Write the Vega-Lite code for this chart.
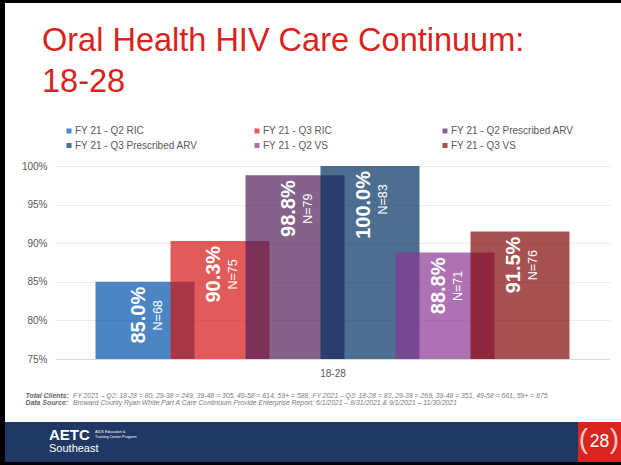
{
  "$schema": "https://vega.github.io/schema/vega-lite/v6.json",
  "background": "#000000",
  "padding": {"left": 5, "top": 3, "right": 0, "bottom": 3},
  "autosize": {"type": "pad"},
  "spacing": 0,
  "bounds": "flush",
  "config": {"view": {"stroke": null}, "font": "Liberation Sans"},
  "vconcat": [
    {
      "width": 616,
      "height": 419,
      "view": {"fill": "#ffffff", "stroke": null},
      "title": {
        "text": ["Oral Health HIV Care Continuum:", "18-28"],
        "anchor": "start",
        "frame": "group",
        "orient": "top",
        "offset": -121,
        "dx": 37,
        "font": "Liberation Sans",
        "fontSize": 32.5,
        "fontWeight": "normal",
        "color": "#d8231e",
        "lineHeight": 41,
        "baseline": "alphabetic"
      },
      "data": {
        "values": [
          {"series": "FY 21 - Q2 RIC", "value": 0.85, "n": "N=68"},
          {"series": "FY 21 - Q3 RIC", "value": 0.903, "n": "N=75"},
          {"series": "FY 21 - Q2 Prescribed ARV", "value": 0.988, "n": "N=79"},
          {"series": "FY 21 - Q3 Prescribed ARV", "value": 1.0, "n": "N=83"},
          {"series": "FY 21 - Q2 VS", "value": 0.888, "n": "N=71"},
          {"series": "FY 21 - Q3 VS", "value": 0.915, "n": "N=76"}
        ]
      },
      "encoding": {
        "x": {
          "field": "series",
          "type": "nominal",
          "sort": ["FY 21 - Q2 RIC", "FY 21 - Q3 RIC", "FY 21 - Q2 Prescribed ARV", "FY 21 - Q3 Prescribed ARV", "FY 21 - Q2 VS", "FY 21 - Q3 VS"],
          "scale": {"range": [50, 605], "paddingInner": 0, "paddingOuter": 0.7},
          "axis": {
            "labels": false,
            "ticks": false,
            "grid": false,
            "domain": true,
            "domainColor": "#d9d9d9",
            "domainWidth": 1,
            "offset": -63,
            "title": "18-28",
            "titleFont": "Liberation Sans",
            "titleFontSize": 10,
            "titleFontWeight": "normal",
            "titleColor": "#595959",
            "titlePadding": 9
          }
        }
      },
      "layer": [
        {
          "mark": {"type": "bar", "opacity": 0.7, "width": {"band": 1.32}},
          "encoding": {
            "y": {
              "field": "value",
              "type": "quantitative",
              "scale": {"domain": [0.75, 1.0], "range": [356, 163], "zero": false, "nice": false},
              "axis": {
                "orient": "left",
                "offset": -45,
                "values": [0.75, 0.8, 0.85, 0.9, 0.95, 1.0],
                "format": ".0%",
                "labelFont": "Liberation Sans",
                "labelFontSize": 10,
                "labelColor": "#595959",
                "labelPadding": 3,
                "domain": false,
                "ticks": false,
                "grid": true,
                "gridColor": "#ececec",
                "title": ["Total Clients:", "Data Source:"],
                "titleX": -25,
                "titleY": 394.3,
                "titleAngle": 0,
                "titleAlign": "left",
                "titleBaseline": "alphabetic",
                "titleFont": "Liberation Sans",
                "titleFontSize": 6.9,
                "titleFontStyle": "italic",
                "titleFontWeight": "bold",
                "titleColor": "#666666",
                "titleLineHeight": 7
              }
            },
            "y2": {"datum": 0.75},
            "color": {
              "field": "series",
              "type": "nominal",
              "scale": {
                "domain": ["FY 21 - Q2 RIC", "FY 21 - Q3 RIC", "FY 21 - Q2 Prescribed ARV", "FY 21 - Q3 Prescribed ARV", "FY 21 - Q2 VS", "FY 21 - Q3 VS"],
                "range": ["#0051ab", "#d31613", "#521f58", "#003062", "#8b3694", "#810909"]
              },
              "legend": {
                "orient": "none",
                "direction": "horizontal",
                "legendX": 59,
                "legendY": 123,
                "columns": 3,
                "gridAlign": "all",
                "columnPadding": 54,
                "rowPadding": 4.5,
                "padding": 0,
                "title": null,
                "symbolType": "square",
                "symbolSize": 25,
                "symbolStrokeWidth": 0,
                "symbolOpacity": 0.7,
                "labelFont": "Liberation Sans",
                "labelFontSize": 10,
                "labelColor": "#595959",
                "labelOffset": 1,
                "labelLimit": 0
              }
            }
          }
        },
        {
          "mark": {"type": "text", "angle": 270, "align": "right", "baseline": "middle", "dx": -5, "dy": -6, "color": "#ffffff", "fontSize": 20, "fontWeight": "bold", "font": "Liberation Sans"},
          "encoding": {
            "y": {
              "field": "value",
              "type": "quantitative",
              "scale": {"domain": [0.75, 1.0], "range": [356, 163], "zero": false, "nice": false},
              "axis": {
                "orient": "right",
                "labels": false,
                "ticks": false,
                "domain": false,
                "grid": false,
                "title": ["FY 2021 – Q2: 18-28 = 80, 29-38 = 249, 39-48 = 305, 49-58 = 614, 59+ = 588, FY 2021 – Q3: 18-28 = 83, 29-38 = 269, 39-48 = 351, 49-58 = 661, 59+ = 675", "Broward County Ryan White Part A Care Continuum Provide Enterprise Report: 6/1/2021 – 8/31/2021 & 9/1/2021 – 11/30/2021"],
                "titleX": -548.5,
                "titleY": 394.3,
                "titleAngle": 0,
                "titleAlign": "left",
                "titleBaseline": "alphabetic",
                "titleFont": "Liberation Sans",
                "titleFontSize": 6.85,
                "titleFontStyle": "italic",
                "titleFontWeight": "normal",
                "titleColor": "#7a7a7a",
                "titleLineHeight": 7
              }
            },
            "text": {"field": "value", "type": "quantitative", "format": ".1%"}
          }
        },
        {
          "mark": {"type": "text", "angle": 270, "align": "center", "baseline": "middle", "dx": -33.5, "dy": 13, "color": "#ffffff", "fontSize": 12.5, "font": "Liberation Sans"},
          "encoding": {
            "y": {
              "field": "value",
              "type": "quantitative",
              "scale": {"domain": [0.75, 1.0], "range": [356, 163], "zero": false, "nice": false},
              "axis": null
            },
            "text": {"field": "n", "type": "nominal"}
          }
        }
      ],
      "resolve": {"axis": {"y": "independent"}}
    },
    {
      "spacing": 0,
      "bounds": "flush",
      "hconcat": [
        {
          "width": 573,
          "height": 40,
          "view": {"fill": "#1f3864", "stroke": null},
          "title": {
            "text": "AETC",
            "subtitle": "Southeast",
            "anchor": "start",
            "frame": "group",
            "orient": "top",
            "offset": -44,
            "dx": 44,
            "baseline": "alphabetic",
            "font": "Liberation Sans",
            "fontSize": 15,
            "fontWeight": "bold",
            "color": "#ffffff",
            "subtitleFont": "Liberation Sans",
            "subtitleFontSize": 11,
            "subtitleColor": "#ffffff",
            "subtitlePadding": -3
          },
          "data": {"values": [{}]},
          "mark": {"type": "text", "text": ["AIDS Education &", "Training Center Program"], "color": "#ffffff", "fontSize": 3.8, "lineHeight": 5, "align": "left", "baseline": "middle", "dx": -196.5, "dy": -10}
        },
        {
          "width": 43,
          "height": 40,
          "view": {"fill": "#d9251d", "stroke": null},
          "data": {"values": [{}]},
          "layer": [
            {"mark": {"type": "text", "text": "28", "color": "#ffffff", "fontSize": 17.5, "align": "center", "baseline": "middle", "font": "Liberation Sans"}},
            {"mark": {"type": "text", "text": "(", "color": "#ffffff", "opacity": 0.75, "fontSize": 28, "align": "center", "baseline": "middle", "dx": -16, "dy": -2, "font": "Liberation Sans"}},
            {"mark": {"type": "text", "text": ")", "color": "#ffffff", "opacity": 0.75, "fontSize": 28, "align": "center", "baseline": "middle", "dx": 15, "dy": -2, "font": "Liberation Sans"}}
          ]
        }
      ]
    }
  ]
}
